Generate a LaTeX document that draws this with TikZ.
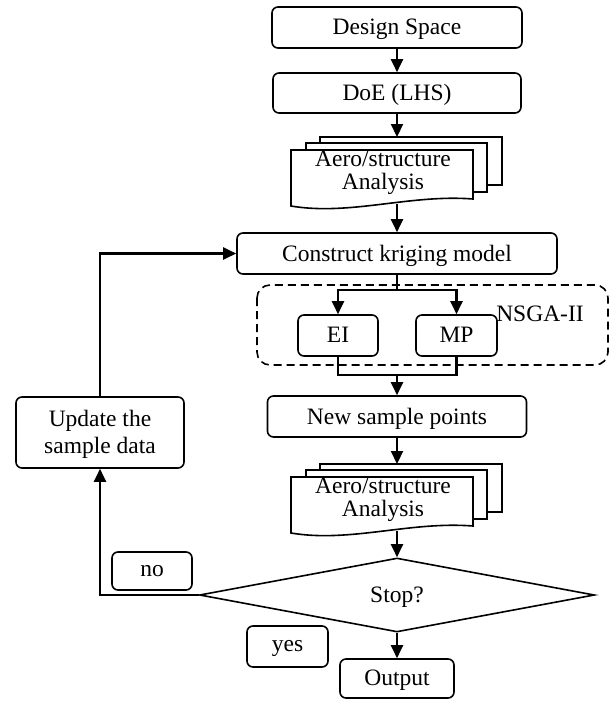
\documentclass[tikz,border=0pt]{standalone}
\usepackage{fontspec}
\setmainfont{Liberation Serif}
\usetikzlibrary{arrows.meta,shapes.geometric}
\begin{document}
\begin{tikzpicture}[x=1pt,y=-1pt,
  font=\fontsize{23.5}{27}\selectfont,
  box/.style={draw, line width=1.6pt, rounded corners=6pt, inner sep=0pt, align=center, text depth=1pt},
  arr/.style={line width=2.2pt, -{Triangle[length=13pt,width=12pt]}},
  ln/.style={line width=2.2pt},
  docl/.style={draw, line width=1.6pt, fill=white},
  doctext/.style={align=center, font=\fontsize{23.5}{23.5}\selectfont, inner sep=0pt}]
\useasboundingbox (0,0) rectangle (611,702);

% main boxes
\node[box, minimum width=250pt, minimum height=41pt] (ds) at (397,27.5) {Design Space};
\node[box, minimum width=248pt, minimum height=40pt] (doe) at (397,93) {DoE (LHS)};
\node[box, minimum width=320pt, minimum height=41pt] (ckm) at (397,253.5) {Construct kriging model};
\node[box, minimum width=80pt, minimum height=41pt] (ei) at (338,335.5) {EI};
\node[box, minimum width=81pt, minimum height=41pt] (mp) at (456.5,335.5) {MP};
\node[inner sep=0pt] (nsga) at (540,314) {NSGA-II};
\node[box, minimum width=259pt, minimum height=41pt] (nsp) at (397,416.5) {New sample points};
\node[box, minimum width=168pt, minimum height=71pt] (upd) at (100,432.5) {Update the\\sample data};
\node[box, minimum width=80pt, minimum height=38pt] (no) at (152,571) {no};
\node[draw, line width=1.6pt, diamond, aspect=5.34, minimum width=395pt, minimum height=74pt, inner sep=0pt] (stop) at (397,595) {};
\node[inner sep=0pt] (stoptxt) at (397,597) {Stop?};
\node[box, minimum width=81pt, minimum height=41pt] (yes) at (287.5,646.5) {yes};
\node[box, minimum width=114pt, minimum height=39pt] (out) at (397,678.5) {Output};

% NSGA-II group
\draw[line width=1.6pt, dash pattern=on 8pt off 5pt, rounded corners=13pt] (257,285) rectangle (608,365);

% document stacks
\foreach \dy/\nm in {0/a1, 327/a2}{
  \draw[docl] (320,137+\dy) rectangle (502,185+\dy);
  \draw[docl] (306,143+\dy) rectangle (487,192+\dy);
  \draw[docl] (291,150+\dy) -- (473,150+\dy) -- (473,199+\dy)
     .. controls (410,194+\dy) and (350,216+\dy) .. (291,206+\dy) -- cycle;
  \coordinate (\nm top) at (397,137+\dy);
  \coordinate (\nm bot) at (397,204+\dy);
  \node[doctext] (\nm txt) at (383,173+\dy) {Aero/structure\\Analysis};
}

% connectors
\draw[arr] (ds.south) -- (doe.north);
\draw[arr] (doe.south) -- (a1top);
\draw[arr] (a1bot) -- (ckm.north);
\coordinate (br) at (397,290);
\draw[ln] (ckm.south) -- (br);
\draw[arr] (br) -| (ei.north);
\draw[arr] (br) -| (mp.north);
\coordinate (mg) at (397,375);
\draw[ln] (ei.south) |- (mg);
\draw[ln] (mp.south) |- (mg);
\draw[arr] (mg) -- (nsp.north);
\draw[arr] (nsp.south) -- (a2top);
\draw[arr] (a2bot) -- (stop.north);
\draw[arr] (stop.south) -- (out.north);
\draw[arr] (stop.west) -| (upd.south);
\draw[arr] (upd.north) |- (ckm.west);
\end{tikzpicture}
\end{document}
